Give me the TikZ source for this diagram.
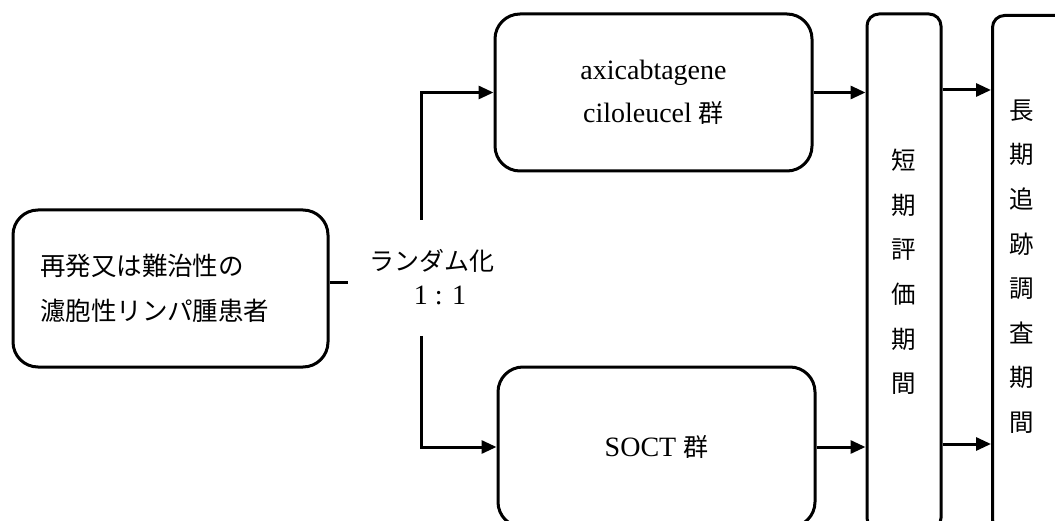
\documentclass[tikz,border=0pt]{standalone}
\usepackage{fontspec}
\setmainfont{Liberation Serif}
\newfontfamily\cjk{Noto Sans CJK JP}
\usetikzlibrary{arrows.meta}
\begin{document}
\begin{tikzpicture}[x=1pt,y=-1pt,
  box/.style={draw, line width=3pt, rounded corners=25pt, inner sep=0pt},
  tallbox/.style={draw, line width=3pt, rounded corners=12pt, inner sep=0pt},
  conn/.style={line width=3pt},
  arr/.style={line width=3pt, -{Triangle[length=15pt,width=13pt]}},
  vtxt/.style={font=\cjk\fontsize{24.5}{44.6}\selectfont, align=center, inner sep=0pt}]
\useasboundingbox (0,0) rectangle (1055,521);
\clip (0,0) rectangle (1055,521);
% boxes
\node[box, minimum width=315pt, minimum height=157pt, text width=261pt, align=left,
      font=\cjk\fontsize{25.5}{45}\selectfont] (pat) at (170.5,288.5)
  {再発又は難治性の\\濾胞性リンパ腫患者};
\node[box, minimum width=317pt, minimum height=157pt, align=center,
      font=\fontsize{28}{43}\selectfont] (axi) at (653.5,92.5)
  {axicabtagene\\ciloleucel {\cjk\fontsize{25}{43}\selectfont 群}};
\node[box, minimum width=317pt, minimum height=160pt, align=center,
      font=\fontsize{28}{43}\selectfont] (soct) at (656.5,447)
  {SOCT {\cjk\fontsize{25}{43}\selectfont 群}};
\node[tallbox, minimum width=74pt, minimum height=516pt] (short) at (904,272) {};
\node[vtxt] (shorttxt) at (short.center) {短\\期\\評\\価\\期\\間};
\node[tallbox, minimum width=85pt, minimum height=516pt, anchor=north west] (long) at (991,14) {};
\node[vtxt] (longtxt) at (1022,266.5) {長\\期\\追\\跡\\調\\査\\期\\間};
% randomisation label
\node[inner sep=0pt] (rand) at (432,261) {\cjk\fontsize{25}{30}\selectfont ランダム化};
\node[inner sep=0pt, font=\fontsize{28}{30}\selectfont] (ratio) at (440,295) {1 : 1};
% connectors
\coordinate (pend) at (348,283);
\coordinate (vtop) at (421,220);
\coordinate (vbot) at (421,336);
\draw[conn] (pat.east |- pend) -- (pend);
\draw[arr] (vtop) |- (axi.west);
\draw[arr] (vbot) |- (soct.west);
\draw[arr] (axi.east) -- (axi.east -| short.west);
\draw[arr] (soct.east) -- (soct.east -| short.west);
\draw[arr] (short.east |- 0,90) -- (long.west |- 0,90);
\draw[arr] (short.east |- 0,444) -- (long.west |- 0,444);
\end{tikzpicture}
\end{document}
